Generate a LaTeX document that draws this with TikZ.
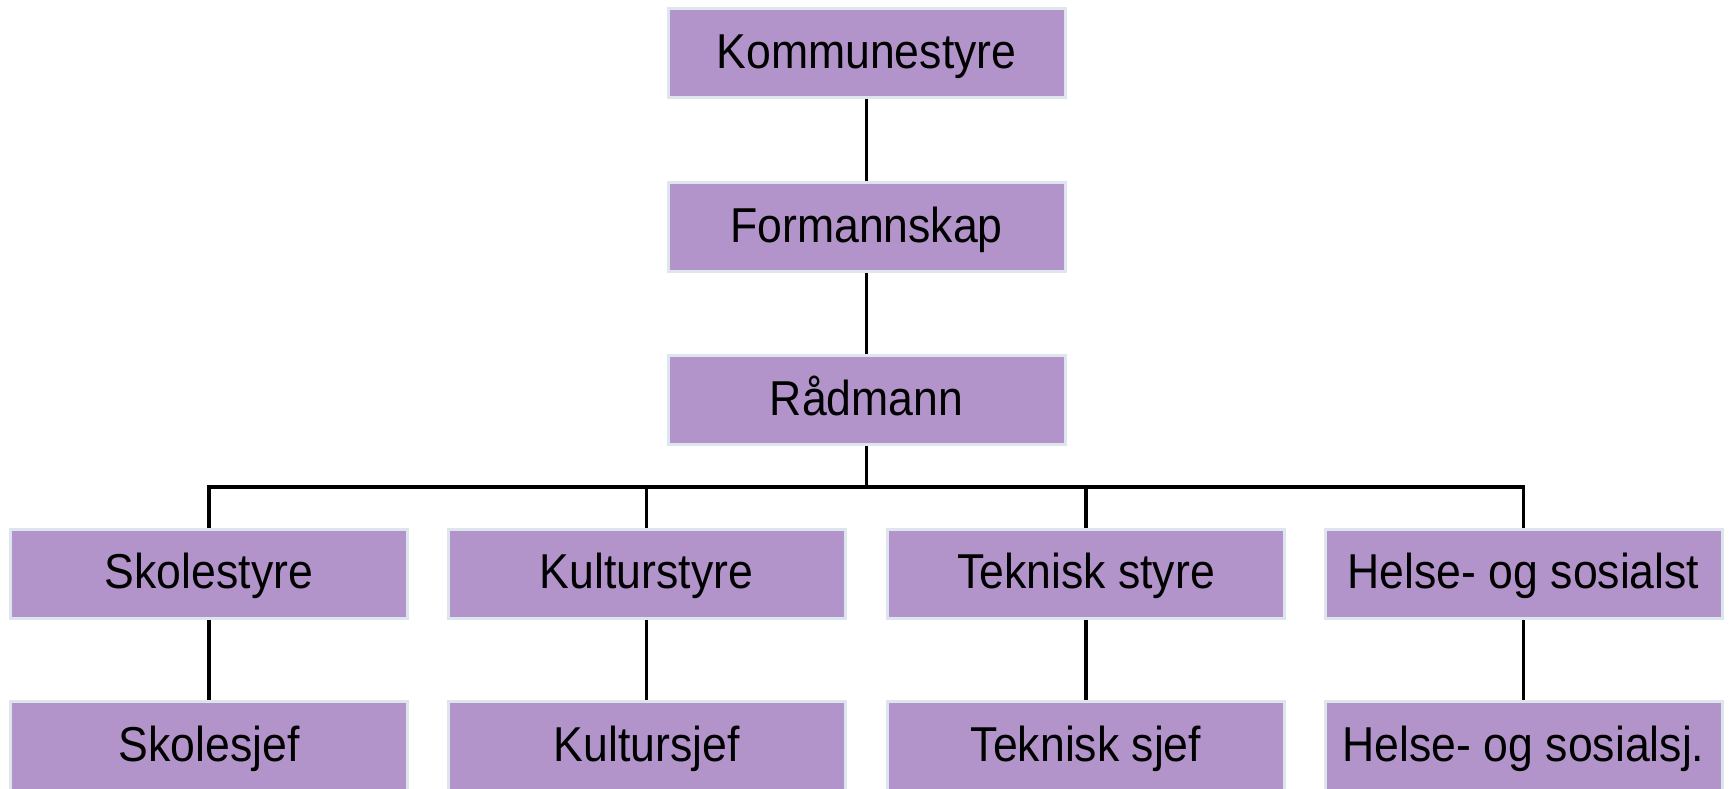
\documentclass[tikz,border=0pt]{standalone}
\usepackage{fontspec}
\setmainfont[FakeStretch=0.91]{Liberation Sans}
\definecolor{boxfill}{HTML}{B294CA}
\definecolor{boxline}{HTML}{DCE6EC}
\tikzset{
  orgbox/.style={draw=boxline, line width=3pt, fill=boxfill, minimum width=397pt, minimum height=89pt, inner sep=0pt, text height=30pt, text depth=0pt, font=\fontsize{49}{58}\selectfont, text=black},
  link/.style={draw=black, line width=3.2pt}
}
\begin{document}
\begin{tikzpicture}[x=1pt,y=-1pt]
\useasboundingbox (0,0) rectangle (1729,789);
\node[orgbox] (k) at (866.5,53.5) {Kommunestyre};
\node[orgbox] (f) at (866.5,227) {Formannskap};
\node[orgbox] (r) at (866.5,400) {Rådmann};
\node[orgbox] (s1) at (209,573.5) {Skolestyre};
\node[orgbox] (s2) at (646.5,573.5) {Kulturstyre};
\node[orgbox] (s3) at (1086,573.5) {Teknisk styre};
\node[orgbox] (s4) at (1523.5,573.5) {Helse- og sosialst};
\node[orgbox] (j1) at (209,746) {Skolesjef};
\node[orgbox] (j2) at (646.5,746) {Kultursjef};
\node[orgbox] (j3) at (1086,746) {Teknisk sjef};
\node[orgbox] (j4) at (1523.5,746) {Helse- og sosialsj.};
\coordinate (bar) at (866.5,487);
\path[link] (k.south) -- (f.north);
\path[link] (f.south) -- (r.north);
\path[link] (r.south) -- (bar);
\path[link] (bar) -| (s1.north);
\path[link] (bar) -| (s2.north);
\path[link] (bar) -| (s3.north);
\path[link] (bar) -| (s4.north);
\path[link] (s1.south) -- (j1.north);
\path[link] (s2.south) -- (j2.north);
\path[link] (s3.south) -- (j3.north);
\path[link] (s4.south) -- (j4.north);
\end{tikzpicture}
\end{document}
